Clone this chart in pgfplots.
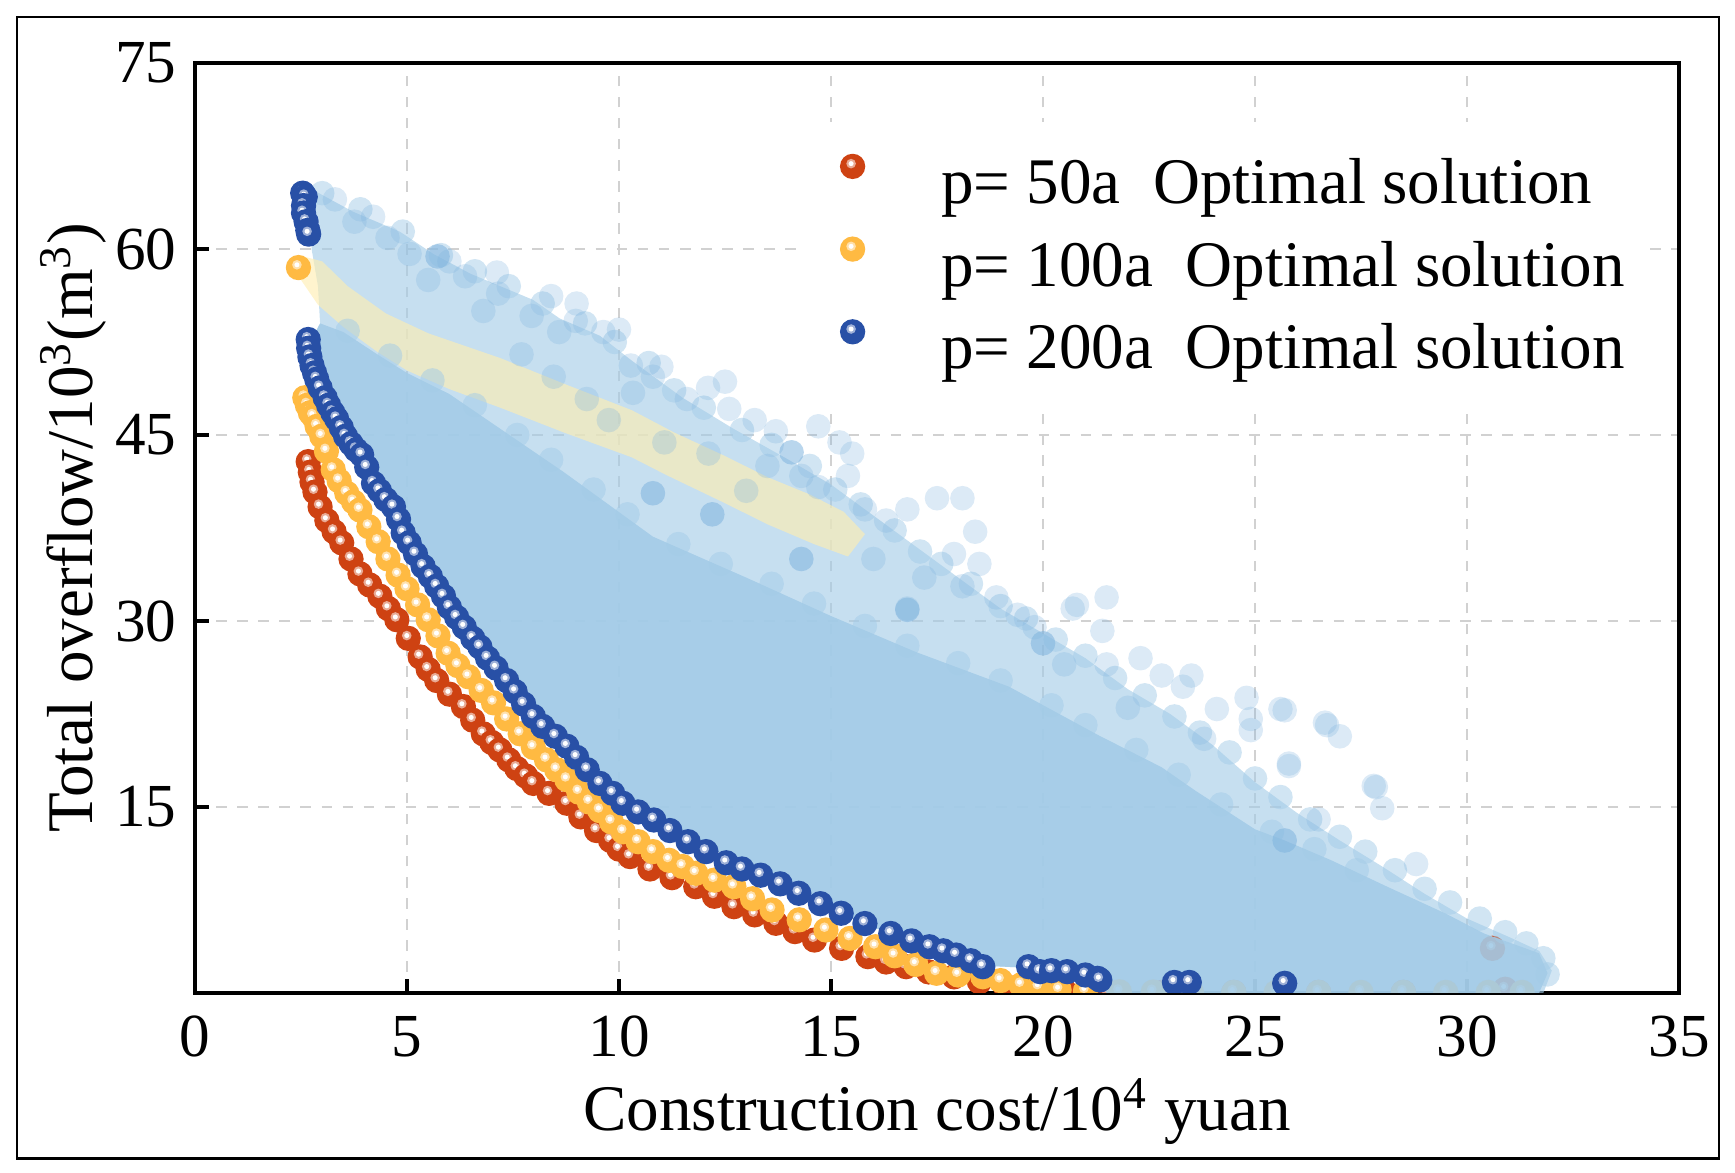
\documentclass[border=0pt]{standalone}
\usepackage{pgfplots}
\pgfplotsset{compat=1.18}
\usepackage{fontspec}
\setmainfont{Liberation Serif}

\definecolor{frontred}{RGB}{206,66,18}
\definecolor{frontorange}{RGB}{255,186,66}
\definecolor{frontblue}{RGB}{40,80,166}
\definecolor{cloudblue}{RGB}{163,203,231}
\definecolor{sparseblue}{RGB}{128,180,222}
\definecolor{bandyellow}{RGB}{255,238,176}

\newcommand\defball[2]{%
  \pgfdeclareplotmark{#1}{%
    \pgfsetfillcolor{#2}%
    \pgfpathcircle{\pgfpointorigin}{\pgfplotmarksize}%
    \pgfusepath{fill}%
    \pgfsetfillcolor{#2!45!white}%
    \pgfpathcircle{\pgfpoint{-0.12\pgfplotmarksize}{0.22\pgfplotmarksize}}{0.38\pgfplotmarksize}%
    \pgfusepath{fill}%
    \pgfsetfillcolor{white}%
    \pgfpathcircle{\pgfpoint{-0.12\pgfplotmarksize}{0.22\pgfplotmarksize}}{0.2\pgfplotmarksize}%
    \pgfusepath{fill}%
  }}
\defball{ballR}{frontred}
\defball{ballO}{frontorange}
\defball{ballB}{frontblue}
\pgfdeclareplotmark{fdot}{%
  \pgfpathcircle{\pgfpointorigin}{\pgfplotmarksize}%
  \pgfusepathqfill}

\pgfplotsset{
  layers/mylayers/.define layer set={axis background,axis grid,main,axis ticks,axis lines,axis tick labels,axis descriptions,axis foreground}{},
}

\newcommand\tickfont{\fontsize{17.4}{20}\selectfont}
\newcommand\labfont{\fontsize{18.5}{22}\selectfont}
\newcommand\legfont{\fontsize{18.5}{22}\selectfont}

\begin{document}
\begin{tikzpicture}
\path (0,0) rectangle (173.5mm,117.3mm);
\draw[line width=0.7pt] (1.7mm,1.45mm) rectangle (171.9mm,115.6mm);
\begin{axis}[
  set layers=mylayers,
  clip marker paths=true,
  at={(19.5mm,18.0mm)}, anchor=south west,
  width=148.4mm, height=93.0mm, scale only axis,
  xmin=0, xmax=35, ymin=0, ymax=75,
  xtick={0,5,...,35}, ytick={15,30,45,60,75},
  xtick pos=bottom, ytick pos=left,
  tick align=inside,
  major tick length=1.4mm,
  every tick/.style={black, line width=1pt},
  axis line style={line width=1.1pt},
  grid=major,
  major grid style={line width=0.5pt, black!18, dash pattern=on 3pt off 3pt},
  /pgf/number format/assume math mode=true,
  xticklabel style={font=\tickfont, inner sep=0pt, anchor=base, yshift=-6.4mm},
  yticklabel style={font=\tickfont, inner sep=0pt, anchor=east, xshift=-1.8mm},
  xlabel={Construction cost/10\textsuperscript{4} yuan},
  ylabel={Total overflow/10\textsuperscript{3}(m\textsuperscript{3})},
  xlabel style={font=\labfont, at={(axis description cs:0.5,0)}, anchor=base, yshift=-13.8mm},
  ylabel style={font=\labfont, at={(axis description cs:-0.069,0.5)}, anchor=base},
  legend cell align=left,
  legend image code/.code={\path (0mm,-1.2mm) (6mm,3.6mm); \draw[#1] plot coordinates {(3mm,2.2mm)};},
  legend style={draw=none, fill=white, font=\legfont,
    at={(axis description cs:0.4085,0.9376)}, anchor=north west,
    inner xsep=2mm, inner ysep=3mm, row sep=1.6mm, column sep=5.8mm,
    nodes={inner sep=0pt, text height=4.5mm, text depth=1.5mm}},
]

% ---- semi-dense outer cloud (p=200a all solutions) ----
\addplot[forget plot, draw=none, fill=cloudblue, fill opacity=0.62] coordinates {
(2.7,64.9)(2.87,64.6)(3.73,63.0)(4.83,61.4)(5.62,59.6)(6.5,58.0)(7.97,55.9)(8.6,54.4)
(9.55,53.0)(10.3,51.0)(11.5,48.0)(12.7,45.5)(14.0,43.0)(15.0,41.0)(16.0,38.5)(17.0,36.0)
(18.0,33.5)(19.0,31.0)(20.0,29.0)(21.0,27.0)(22.0,24.5)(23.0,22.5)(24.0,20.0)(25.0,17.0)
(26.0,14.5)(27.0,12.3)(28.0,10.2)(29.0,8.0)(30.0,6.0)(31.0,4.5)(31.7,3.4)(32.0,1.8)(31.8,0.0)
(21.5,0.0)(21.3,1.0)(20.5,1.6)(19.8,2.0)(18.6,2.2)(17.3,3.8)(16.0,5.3)(14.5,7.5)(13.3,9.7)
(11.8,12.3)(10.5,14.8)(9.5,17.2)(8.8,19.9)(8.0,22.5)(7.3,25.4)(6.6,28.5)(6.0,31.2)(5.5,33.6)
(5.0,36.5)(4.5,39.6)(4.0,43.2)(3.5,46.2)(3.1,48.5)(2.85,51.0)(2.8,53.0)(2.95,54.0)(2.9,57.0)(2.75,60.0)
} -- cycle;

% ---- faint yellow band (p=100a all solutions) ----
\addplot[forget plot, draw=none, fill=bandyellow, fill opacity=0.62] coordinates {
(2.44,59.5)(3.0,59.0)(3.6,57.0)(4.5,54.8)(5.5,53.2)(7.2,51.2)(8.8,49.0)(10.3,47.0)(11.3,45.2)
(12.5,43.3)(13.5,41.6)(14.5,40.2)(15.3,38.8)(15.8,37.0)(15.4,35.2)(14.6,36.2)(13.5,37.8)
(12.5,39.5)(11.1,41.8)(10.3,43.2)(8.7,45.2)(7.2,47.2)(6.0,48.7)(5.0,50.2)
(4.3,51.7)(3.5,53.7)(2.9,55.5)(2.5,57.5)
} -- cycle;

% ---- red front (p=50a) ----
\addplot[only marks, mark=ballR, mark size=3.6pt] coordinates {
(2.67,42.85)(2.72,42.0)(2.76,41.2)(2.83,40.4)(2.95,39.2)(3.11,38.1)(3.28,37.2)(3.46,36.3)
(3.68,35.0)(3.89,33.8)(4.12,32.9)(4.36,32.0)(4.56,31.0)(4.76,30.1)(5.03,28.6)(5.31,27.1)
(5.50,26.1)(5.70,25.2)(6.00,24.1)(6.33,23.1)(6.55,22.0)(6.80,20.9)(7.00,20.2)(7.19,19.6)
(7.40,18.8)(7.59,18.1)(7.80,17.5)(7.98,16.9)(8.35,16.1)(8.77,15.3)(9.10,14.2)(9.47,13.1)
(9.80,12.3)(10.0,11.6)(10.26,11.0)(10.73,10.0)(11.25,9.3)(11.81,8.57)(12.25,7.8)(12.71,6.96)
(13.2,6.3)(13.7,5.62)(14.15,4.95)(14.61,4.27)(15.25,3.6)(15.87,2.93)(16.3,2.5)(16.77,2.12)
(17.3,1.7)(17.9,1.3)(18.5,0.9)(19.1,0.6)(19.8,0.35)(20.5,0.2)(21.5,0.1)(22.8,0.05)(24.5,0.05)
(26.5,0.05)(28.5,0.05)(30.6,3.6)(30.9,0.3)
};
\addlegendentry{p= 50a\ \ Optimal solution}

% ---- orange front (p=100a) ----
\addplot[only marks, mark=ballO, mark size=3.6pt] coordinates {
(2.44,58.5)(2.59,48.0)(2.65,47.4)(2.72,46.8)(2.79,46.5)(2.88,45.7)(2.99,44.9)(3.10,43.7)
(3.26,42.2)(3.40,41.3)(3.58,40.3)(3.74,39.6)(3.89,38.95)(4.10,37.6)(4.32,36.4)(4.55,35.0)
(4.79,33.7)(5.00,32.6)(5.25,31.3)(5.50,30.1)(5.73,28.8)(5.97,27.4)(6.20,26.4)(6.45,25.5)
(6.75,24.4)(7.04,23.4)(7.35,22.1)(7.67,20.9)(7.98,19.8)(8.29,18.8)(8.53,18.0)(8.77,17.2)
(9.05,16.2)(9.30,15.4)(9.55,14.7)(9.82,13.8)(10.10,13.0)(10.45,12.2)(10.80,11.4)(11.18,10.7)
(11.50,10.2)(11.81,9.65)(12.25,9.1)(12.71,8.57)(13.15,7.6)(13.61,6.69)(14.25,5.9)(14.88,5.08)
(15.45,4.4)(16.05,3.73)(16.50,3.0)(17.0,2.3)(17.49,1.59)(18.0,1.45)(18.58,1.31)(19.0,1.0)
(19.48,0.65)(19.9,0.45)(20.38,0.24)(21.0,0.15)(21.8,0.1)(22.6,0.08)(23.5,0.06)(24.5,0.05)
(25.5,0.05)(26.5,0.05)(27.5,0.05)(28.5,0.05)(29.5,0.05)(30.5,0.05)(31.3,0.05)
};
\addlegendentry{p= 100a\ \ Optimal solution}

% ---- dense core of the cloud ----
\addplot[forget plot, draw=none, fill=cloudblue, fill opacity=0.9] coordinates {
(2.95,54.0)(3.5,53.3)(4.3,51.5)(5.0,50.0)(6.0,48.3)(7.2,45.5)(8.7,42.0)(10.8,36.8)(13.0,33.5)
(15.0,30.4)(17.0,27.5)(19.2,24.7)(21.3,20.8)(22.8,18.2)(23.6,16.3)(25.0,13.2)(25.7,12.3)
(26.8,10.7)(28.1,8.6)(29.5,6.4)(30.4,4.8)(31.3,3.7)(31.7,3.2)(31.9,1.6)(31.7,0.0)
(21.5,0.0)(21.3,1.0)(20.5,1.6)(19.8,2.0)(18.6,2.2)(17.3,3.8)(16.0,5.3)(14.5,7.5)(13.3,9.7)
(11.8,12.3)(10.5,14.8)(9.5,17.2)(8.8,19.9)(8.0,22.5)(7.3,25.4)(6.6,28.5)(6.0,31.2)(5.5,33.6)
(5.0,36.5)(4.5,39.6)(4.0,43.2)(3.5,46.2)(3.1,48.5)(2.85,51.0)(2.8,53.0)
} -- cycle;

% ---- solutions along the edges of the cloud ----
\addplot[forget plot, only marks, mark=fdot, mark size=3.5pt,
  mark options={fill=cloudblue, fill opacity=0.5}] coordinates {
(3.0,64.5)(3.9,63.2)(4.9,61.4)(5.8,59.5)(6.6,58.2)(7.4,57.0)(8.2,55.6)(9.2,54.0)(9.9,52.5)
(10.7,50.8)(11.3,48.6)(12.0,47.2)(12.9,45.4)(13.6,44.2)(14.5,42.5)(15.1,40.6)(15.7,39.4)
(16.5,37.3)(17.1,35.6)(17.6,34.6)(18.3,33.0)(19.0,31.2)(19.6,30.2)(20.3,28.5)(21.0,27.2)
(21.7,25.4)(22.4,24.0)(23.1,22.3)(23.7,21.0)(24.4,19.4)(25.0,17.3)(25.6,15.8)(26.3,14.0)
(27.0,12.6)(27.6,11.4)(28.3,9.9)(29.0,8.4)(29.6,7.3)(30.3,6.0)(30.9,4.9)(31.4,4.0)(31.8,2.8)(31.9,1.5)
(3.6,53.4)(4.6,51.4)(5.6,49.4)(6.6,47.4)(7.6,45.0)(8.4,43.0)(9.4,40.6)(10.2,38.6)(11.4,36.2)
(12.4,34.6)(13.6,33.0)(14.6,31.4)(15.8,29.6)(16.8,28.0)(18.0,26.6)(19.0,25.2)(20.2,23.2)
(21.0,21.6)(22.2,19.6)(23.2,17.6)(24.2,15.2)(25.4,13.0)(26.4,11.6)(27.4,9.9)
};

% ---- sparse transparent solutions ----
\addplot[forget plot, only marks, mark=fdot, mark size=3.5pt,
  mark options={fill=sparseblue, fill opacity=0.28}] coordinates {
(3.3,64.0)(3.76,62.2)(4.2,62.6)(4.54,60.9)(5.06,59.6)(6.0,59.0)(6.37,57.8)(7.15,56.4)(7.12,58.1)
(7.94,54.6)(8.4,56.2)(8.98,54.2)(8.59,53.3)(9.63,53.3)(9.0,55.6)(10.0,53.5)(10.28,50.6)(10.33,48.4)
(10.8,49.7)(11.0,50.5)(11.6,47.9)(12.1,48.8)(12.5,49.3)(12.6,47.1)(13.2,46.2)(13.7,45.3)(14.7,45.7)
(15.2,44.4)(14.3,41.7)(14.7,40.8)(15.5,43.5)(15.4,41.7)(15.8,39.0)(16.3,38.1)(16.8,39.0)(17.5,39.9)
(18.1,39.9)(18.4,37.2)(17.9,35.4)(18.5,34.6)(18.9,31.9)(18.1,32.8)(19.4,30.5)(20.7,31.0)(20.8,31.3)
(21.5,31.9)(21.4,29.2)(20.5,26.5)(21.5,26.5)(22.3,27.0)(22.8,25.6)(23.3,24.7)(23.5,25.6)(24.1,22.9)
(24.8,23.8)(24.9,21.2)(24.9,22.1)(25.6,22.9)(25.7,22.8)(26.65,21.8)(26.7,21.6)(27.0,20.7)(25.8,18.5)
(25.8,18.3)(27.8,16.7)(27.85,16.6)(26.5,14.0)(28.0,14.9)(28.8,10.4)(7.7,51.5)(8.46,49.7)(9.24,47.9)
(9.76,46.2)(11.07,44.4)(12.11,43.5)(16.8,31.0)(13.0,40.5)(16.0,35.0)(17.2,33.5)(19.8,29.5)(22.0,23.0)
(23.8,20.5)(13.5,42.5)(6.8,55.0)(5.5,57.5)
};
\addplot[forget plot, only marks, mark=fdot, mark size=3.5pt,
  mark options={fill=sparseblue, fill opacity=0.55}] coordinates {
(5.72,59.4)(14.07,43.6)(12.2,38.6)(10.8,40.3)(14.3,35.0)(16.8,30.9)(20.0,28.2)(25.7,12.3)
};

% ---- blue front (p=200a) ----
\addplot[only marks, mark=ballB, mark size=3.6pt] coordinates {
(2.54,64.5)(2.60,64.2)(2.56,63.5)(2.56,62.9)(2.62,62.2)(2.66,61.5)(2.68,61.2)
(2.67,52.7)(2.68,52.0)(2.71,51.3)(2.76,50.6)(2.82,50.0)(2.87,49.5)(2.95,48.8)(3.07,48.0)
(3.15,47.4)(3.25,46.8)(3.34,46.3)(3.45,45.6)(3.55,44.9)(3.68,44.3)(3.80,43.8)(3.93,43.4)
(4.05,42.4)(4.21,41.1)(4.35,40.5)(4.50,39.8)(4.68,39.2)(4.80,38.2)(4.91,37.1)(5.05,36.3)
(5.20,35.4)(5.38,34.4)(5.55,33.6)(5.70,32.8)(5.86,32.0)(6.00,31.1)(6.17,30.3)(6.35,29.5)
(6.55,28.6)(6.72,27.9)(6.90,27.0)(7.10,26.2)(7.35,25.2)(7.55,24.3)(7.75,23.3)(7.98,22.3)
(8.20,21.5)(8.50,20.7)(8.77,19.9)(9.00,19.0)(9.25,18.0)(9.55,16.9)(9.85,16.1)(10.09,15.3)
(10.45,14.6)(10.82,13.95)(11.20,13.1)(11.63,12.2)(12.05,11.4)(12.53,10.5)(12.90,10.0)(13.34,9.5)
(13.80,8.8)(14.24,8.04)(14.75,7.2)(15.24,6.43)(15.80,5.6)(16.41,4.8)(16.90,4.2)(17.32,3.73)
(17.65,3.4)(17.95,3.06)(18.30,2.6)(18.58,2.12)(19.66,2.12)(19.93,1.72)(20.20,1.8)(20.57,1.72)
(21.0,1.45)(21.29,1.18)(21.34,1.05)(23.1,0.85)(23.45,0.85)(25.7,0.78)
};
\addlegendentry{p= 200a\ \ Optimal solution}

\end{axis}
\end{tikzpicture}
\end{document}
